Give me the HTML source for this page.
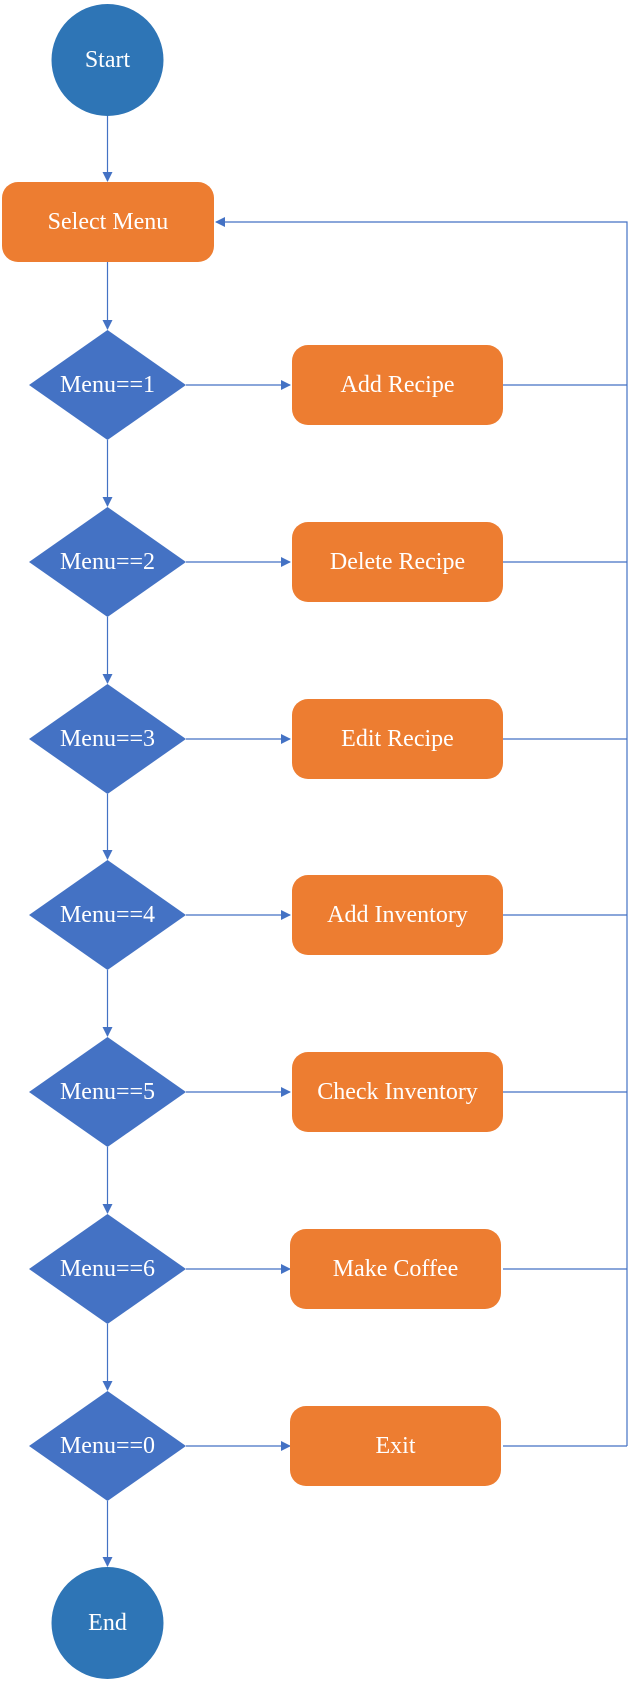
<!DOCTYPE html>
<html><head><meta charset="utf-8"><style>
html,body{margin:0;padding:0;background:#fff}
svg{display:block}
text{font-family:"Liberation Serif",serif;font-size:24px;fill:#fff;text-anchor:middle;dominant-baseline:central}
</style></head><body>
<svg width="629" height="1683" viewBox="0 0 629 1683" xmlns="http://www.w3.org/2000/svg">
<defs><marker id="a" markerWidth="10" markerHeight="10" refX="9" refY="5" orient="auto" markerUnits="userSpaceOnUse"><path d="M0,0 L10,5 L0,10 z" fill="#4472C4"/></marker></defs>
<g stroke="#4472C4" stroke-width="1.2" fill="none">
<line x1="107.5" y1="115" x2="107.5" y2="181" marker-end="url(#a)"/>
<line x1="107.5" y1="262" x2="107.5" y2="329" marker-end="url(#a)"/>
<polyline points="627,1446 627,222 216,222" marker-end="url(#a)"/>
<line x1="107.5" y1="440" x2="107.5" y2="506" marker-end="url(#a)"/>
<line x1="107.5" y1="617" x2="107.5" y2="683" marker-end="url(#a)"/>
<line x1="107.5" y1="794" x2="107.5" y2="859" marker-end="url(#a)"/>
<line x1="107.5" y1="970" x2="107.5" y2="1036" marker-end="url(#a)"/>
<line x1="107.5" y1="1147" x2="107.5" y2="1213" marker-end="url(#a)"/>
<line x1="107.5" y1="1324" x2="107.5" y2="1390" marker-end="url(#a)"/>
<line x1="107.5" y1="1501" x2="107.5" y2="1566" marker-end="url(#a)"/>
<line x1="186" y1="385" x2="290" y2="385" marker-end="url(#a)"/>
<line x1="186" y1="562" x2="290" y2="562" marker-end="url(#a)"/>
<line x1="186" y1="739" x2="290" y2="739" marker-end="url(#a)"/>
<line x1="186" y1="915" x2="290" y2="915" marker-end="url(#a)"/>
<line x1="186" y1="1092" x2="290" y2="1092" marker-end="url(#a)"/>
<line x1="186" y1="1269" x2="290" y2="1269" marker-end="url(#a)"/>
<line x1="186" y1="1446" x2="290" y2="1446" marker-end="url(#a)"/>
<line x1="503" y1="385" x2="627" y2="385"/>
<line x1="503" y1="562" x2="627" y2="562"/>
<line x1="503" y1="739" x2="627" y2="739"/>
<line x1="503" y1="915" x2="627" y2="915"/>
<line x1="503" y1="1092" x2="627" y2="1092"/>
<line x1="503" y1="1269" x2="627" y2="1269"/>
<line x1="503" y1="1446" x2="627" y2="1446"/>
</g>
<ellipse cx="107.5" cy="60" rx="56" ry="56" fill="#2E75B6"/>
<text x="107.5" y="60">Start</text>
<rect x="2" y="182" width="212" height="80" rx="16" fill="#ED7D31"/>
<text x="108" y="222">Select Menu</text>

<g fill="#4472C4">
<polygon points="107.5,330 186,385 107.5,440 29,385"/>
<polygon points="107.5,507 186,562 107.5,617 29,562"/>
<polygon points="107.5,684 186,739 107.5,794 29,739"/>
<polygon points="107.5,860 186,915 107.5,970 29,915"/>
<polygon points="107.5,1037 186,1092 107.5,1147 29,1092"/>
<polygon points="107.5,1214 186,1269 107.5,1324 29,1269"/>
<polygon points="107.5,1391 186,1446 107.5,1501 29,1446"/>
</g>
<g fill="#ED7D31">
<rect x="292" y="345" width="211" height="80" rx="16"/>
<rect x="292" y="522" width="211" height="80" rx="16"/>
<rect x="292" y="699" width="211" height="80" rx="16"/>
<rect x="292" y="875" width="211" height="80" rx="16"/>
<rect x="292" y="1052" width="211" height="80" rx="16"/>
<rect x="290" y="1229" width="211" height="80" rx="16"/>
<rect x="290" y="1406" width="211" height="80" rx="16"/>
</g>
<text x="107.5" y="385">Menu==1</text>
<text x="107.5" y="562">Menu==2</text>
<text x="107.5" y="739">Menu==3</text>
<text x="107.5" y="915">Menu==4</text>
<text x="107.5" y="1092">Menu==5</text>
<text x="107.5" y="1269">Menu==6</text>
<text x="107.5" y="1446">Menu==0</text>
<text x="397.5" y="385">Add Recipe</text>
<text x="397.5" y="562">Delete Recipe</text>
<text x="397.5" y="739">Edit Recipe</text>
<text x="397.5" y="915">Add Inventory</text>
<text x="397.5" y="1092">Check Inventory</text>
<text x="395.5" y="1269">Make Coffee</text>
<text x="395.5" y="1446">Exit</text>

<ellipse cx="107.5" cy="1623" rx="56" ry="56" fill="#2E75B6"/>
<text x="107.5" y="1623">End</text>
</svg>
</body></html>
